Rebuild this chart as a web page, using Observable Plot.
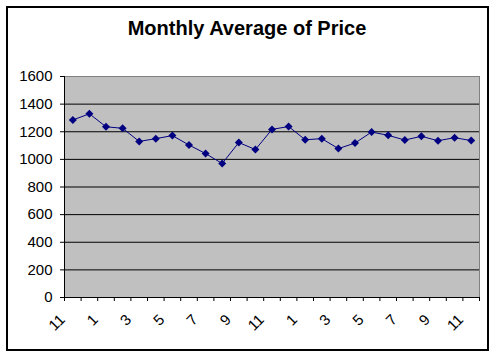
<!DOCTYPE html>
<html>
<head>
<meta charset="utf-8">
<script src="https://cdn.jsdelivr.net/npm/d3@7"></script>
<script src="https://cdn.jsdelivr.net/npm/@observablehq/plot@0.6"></script>
<style>
  html, body { margin: 0; padding: 0; background: #fff; }
  #wrap { position: relative; width: 494px; height: 355px; font-family: Arial, "Liberation Sans", sans-serif; }
  #border { position: absolute; left: 6px; top: 6px; width: 479px; height: 341px; border: 2px solid #000; pointer-events: none; }
  #title { position: absolute; left: 0; top: 17px; width: 494px; text-align: center; font-weight: bold; font-size: 20px; color: #000; }
  #chart { position: absolute; left: 0; top: 0; }
</style>
</head>
<body>
<div id="wrap">
  <div id="chart"></div>
  <div id="border"></div>
  <div id="title">Monthly Average of Price</div>
</div>
<script>
const months = [11, 12, 1, 2, 3, 4, 5, 6, 7, 8, 9, 10, 11, 12, 1, 2, 3, 4, 5, 6, 7, 8, 9, 10, 11];
const prices = [1285, 1330, 1236, 1225, 1130, 1150, 1172, 1104, 1042, 970, 1122, 1071, 1217, 1238, 1142, 1150, 1078, 1118, 1198, 1174, 1140, 1167, 1135, 1157, 1136];
const yTicks = [0, 200, 400, 600, 800, 1000, 1200, 1400, 1600];

const data = months.map((m, i) => ({i, month: m, price: prices[i]}));
const labelled = data.filter(d => d.i % 2 === 0);
const boundaries = d3.range(months.length + 1);

const chart = Plot.plot({
  width: 494,
  height: 355,
  marginLeft: 64,
  marginRight: 15,
  marginTop: 76,
  marginBottom: 58,
  style: {fontFamily: "Arial, 'Liberation Sans', sans-serif", fontSize: "15px", background: "transparent", color: "#000", overflow: "visible"},
  x: {domain: [0, months.length], axis: null},
  y: {domain: [0, 1600], axis: null},
  marks: [
    Plot.frame({fill: "#c0c0c0", stroke: "#808080"}),
    Plot.ruleY(yTicks.slice(1, -1), {stroke: "#000", strokeWidth: 1}),
    Plot.ruleX([0], {stroke: "#000"}),
    Plot.ruleY([0], {stroke: "#000"}),
    Plot.axisY(yTicks, {tickSize: 4, tickPadding: 8, fontSize: 15, label: null, tickFormat: d => String(d)}),
    Plot.axisX(boundaries, {tickSize: 4, tickFormat: () => "", label: null}),
    Plot.line(data, {x: d => d.i + 0.5, y: "price", stroke: "#000080", strokeWidth: 1}),
    Plot.dot(data, {x: d => d.i + 0.5, y: "price", symbol: "diamond2", r: 3.6, fill: "#000080", stroke: "none"}),
    Plot.text(labelled, {x: d => d.i + 0.5, frameAnchor: "bottom", text: d => String(d.month), rotate: -45, textAnchor: "end", dx: -7, dy: 23, fontSize: 15})
  ]
});
document.getElementById("chart").appendChild(chart);
</script>
</body>
</html>
